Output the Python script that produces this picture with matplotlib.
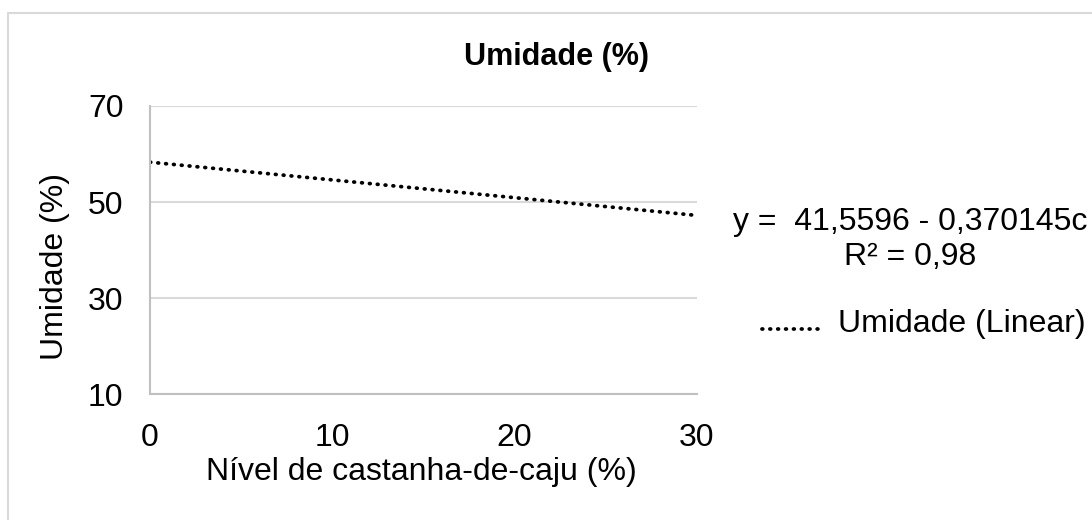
import matplotlib
matplotlib.use("Agg")
import matplotlib.pyplot as plt
from matplotlib.patches import Rectangle
from matplotlib.lines import Line2D

plt.rcParams['font.family'] = ['Liberation Sans', 'DejaVu Sans']

# trend line (Excel linear trendline)
nivel = [0, 30]
umidade = [58.3, 47.2]
y_ticks = [10, 30, 50, 70]
x_ticks = [0, 10, 20, 30]
equacao = "y =  41,5596 - 0,370145c"
r2 = "R² = 0,98"
serie = "Umidade (Linear)"

W, H = 1092, 520
fig = plt.figure(figsize=(W / 100, H / 100), dpi=100)

def fx(px):
    return px / W

def fy(py):
    return 1 - py / H

# outer chart border
fig.patches.append(Rectangle((fx(8), -0.05), 1.1, fy(13) + 0.05, transform=fig.transFigure,
                             fill=False, edgecolor='#d9d9d9', linewidth=1.5))

ax = fig.add_axes([fx(150), fy(394), 547 / W, 288 / H])
dots = (0, (0.2, 1.9))
ax.plot(nivel, umidade, color='black', linewidth=2.7, linestyle=dots, dash_capstyle='round')

ax.set_xlim(0, 30)
ax.set_ylim(10, 70)
ax.set_xticks(x_ticks)
ax.set_yticks(y_ticks)
ax.yaxis.grid(True, color='#d9d9d9', linewidth=1.5)
ax.set_axisbelow(True)
for s in ['top', 'right']:
    ax.spines[s].set_visible(False)
for s in ['left', 'bottom']:
    ax.spines[s].set_color('#c0c0c0')
    ax.spines[s].set_linewidth(1.5)
ax.tick_params(axis='both', length=0, labelsize=23, colors='black')
ax.tick_params(axis='y', pad=19)
ax.tick_params(axis='x', pad=21)

fig.text(fx(421), fy(472), "Nível de castanha-de-caju (%)", fontsize=23, ha='center', va='center')
fig.text(fx(55), fy(266), "Umidade (%)", fontsize=23, rotation=90, ha='center', va='center')
fig.text(fx(556), fy(57), "Umidade (%)", fontsize=22, fontweight='bold', ha='center', va='center')

fig.text(fx(910), fy(222), equacao, fontsize=23, ha='center', va='center')
fig.text(fx(910), fy(257), r2, fontsize=23, ha='center', va='center')

# legend entry
fig.lines.append(Line2D([fx(762), fx(823)], [fy(329), fy(329)], transform=fig.transFigure,
                        color='black', linewidth=2.7, linestyle=dots, dash_capstyle='round'))
fig.text(fx(838), fy(324), serie, fontsize=23, ha='left', va='center')

fig.savefig("out.png", dpi=100)
